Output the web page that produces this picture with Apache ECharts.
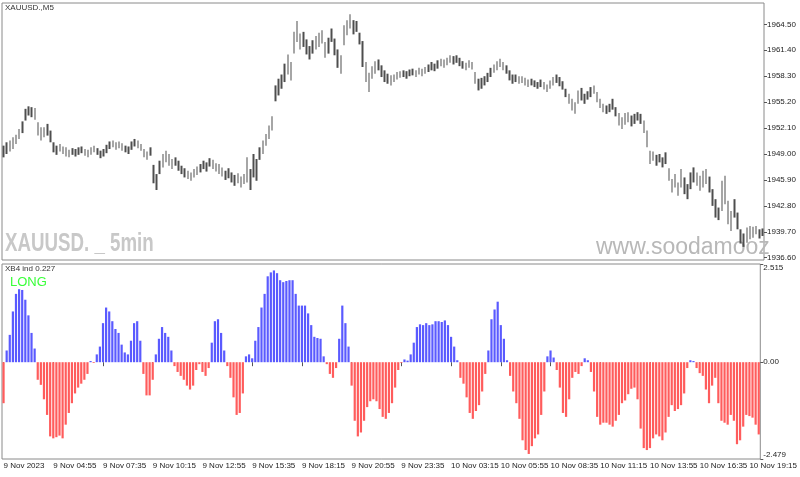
<!DOCTYPE html>
<html lang="en">
<head>
    <meta charset="UTF-8">
    <title>XAUUSD M5</title>
    <script src="https://cdn.jsdelivr.net/npm/echarts@6/dist/echarts.min.js"></script>
    <style>
        html, body { margin: 0; padding: 0; background: #fff; }
        #chart { width: 800px; height: 477px; }
    </style>
</head>
<body>
<div id="chart"></div>
<script>
    // 10-minute steps
    var priceLow = [1948.6,1949.0,1949.3,1949.6,1950.2,1950.8,1951.5,1953.0,1953.6,1953.4,
        1953.1,1951.2,1950.6,1951.0,1951.2,1950.4,1949.2,1948.9,1949.3,1949.0,
        1948.7,1948.6,1948.9,1948.7,1948.9,1949.1,1948.8,1948.6,1948.9,1949.2,
        1948.9,1948.5,1948.7,1949.1,1949.6,1949.8,1949.5,1949.7,1949.4,1949.2,
        1949.0,1949.5,1949.9,1949.7,1949.4,1948.6,1948.3,1948.8,1945.5,1944.7,
        1946.6,1947.4,1948.0,1947.6,1947.2,1947.6,1947.0,1946.6,1946.2,1946.0,
        1945.8,1946.2,1946.5,1946.8,1947.2,1946.9,1947.5,1947.2,1946.9,1946.6,
        1946.3,1945.9,1946.1,1945.6,1945.2,1945.5,1945.0,1945.4,1945.6,1944.7,
        1946.2,1945.8,1948.3,1949.0,1950.0,1950.8,1951.8,1955.3,1956.0,1956.8,
        1957.6,1958.5,1957.8,1961.0,1962.4,1961.5,1961.8,1960.9,1960.3,1961.0,
        1961.5,1961.8,1962.2,1960.5,1961.0,1962.4,1960.8,1959.3,1958.6,1962.0,
        1963.2,1964.0,1963.3,1963.6,1962.1,1959.4,1957.6,1956.4,1958.0,1958.6,
        1959.0,1958.2,1957.6,1957.4,1957.2,1957.6,1957.9,1958.1,1958.2,1958.0,
        1958.3,1958.4,1958.2,1958.5,1958.3,1958.6,1958.8,1959.0,1958.9,1959.2,
        1959.5,1959.3,1959.6,1959.9,1959.7,1959.9,1959.5,1959.2,1959.0,1959.3,
        1959.1,1957.4,1956.6,1956.8,1957.2,1957.6,1958.2,1958.7,1959.0,1959.4,
        1959.0,1958.6,1957.8,1957.4,1957.6,1957.4,1957.5,1957.2,1957.0,1957.2,
        1957.0,1956.8,1957.0,1956.7,1956.4,1956.8,1957.2,1957.5,1957.1,1956.7,
        1955.8,1955.0,1954.2,1953.8,1955.0,1955.4,1955.0,1955.5,1955.8,1956.2,
        1955.2,1954.5,1954.0,1953.8,1954.0,1954.3,1953.5,1952.4,1952.0,1952.5,
        1952.8,1952.3,1952.6,1953.0,1952.6,1951.5,1949.8,1947.8,1948.2,1947.6,
        1948.0,1947.4,1947.8,1945.8,1944.4,1945.0,1944.0,1945.0,1944.2,1943.6,
        1944.8,1945.6,1945.2,1944.6,1945.0,1945.4,1944.4,1942.8,1941.4,1941.1,
        1942.2,1943.0,1940.6,1939.8,1941.4,1940.0,1938.3,1937.9,1938.4,1938.8,
        1939.0,1939.4,1938.9,1939.2];

    var priceHigh = [1950.0,1950.4,1950.6,1951.0,1951.3,1952.0,1952.9,1954.4,1954.7,1954.6,
        1954.5,1952.8,1952.2,1952.2,1952.6,1951.8,1950.4,1950.0,1950.2,1949.9,
        1949.8,1949.5,1949.7,1949.6,1949.8,1949.9,1949.6,1949.5,1949.8,1950.0,
        1949.7,1949.4,1949.6,1950.1,1950.5,1950.6,1950.4,1950.5,1950.3,1950.0,
        1949.9,1950.5,1950.8,1950.6,1950.2,1949.6,1949.3,1949.8,1947.7,1946.6,
        1948.2,1949.0,1949.4,1949.0,1948.4,1948.6,1948.2,1947.6,1947.3,1947.0,
        1946.8,1947.2,1947.5,1947.8,1948.2,1948.0,1948.5,1948.3,1947.9,1947.8,
        1947.4,1947.0,1947.3,1946.8,1946.5,1946.7,1946.3,1946.6,1948.6,1947.2,
        1949.0,1948.4,1949.8,1950.6,1951.4,1952.4,1953.5,1957.2,1958.0,1958.5,
        1959.8,1960.9,1960.0,1963.6,1964.9,1963.4,1963.6,1962.7,1961.9,1962.6,
        1963.1,1963.5,1963.8,1962.4,1962.9,1964.0,1962.8,1961.5,1960.8,1964.4,
        1965.0,1965.7,1965.0,1964.9,1963.5,1962.5,1960.0,1958.7,1959.5,1960.1,
        1960.3,1959.6,1959.0,1958.6,1958.4,1958.5,1958.8,1958.9,1959.0,1958.9,
        1959.1,1959.2,1959.0,1959.3,1959.2,1959.4,1959.7,1960.0,1959.8,1960.2,
        1960.4,1960.3,1960.5,1960.8,1960.7,1960.8,1960.5,1960.1,1959.9,1960.2,
        1960.0,1958.8,1958.0,1958.1,1958.3,1958.7,1959.3,1959.7,1960.1,1960.4,
        1960.0,1959.6,1959.0,1958.5,1958.5,1958.3,1958.3,1958.1,1957.9,1958.0,
        1957.8,1957.6,1957.9,1957.6,1957.3,1957.8,1958.2,1958.5,1958.2,1957.7,
        1956.8,1956.2,1955.6,1955.2,1956.6,1956.9,1956.2,1956.5,1957.0,1957.2,
        1956.4,1955.6,1955.0,1954.8,1955.0,1955.6,1954.6,1953.9,1953.4,1953.9,
        1954.0,1953.6,1953.8,1954.0,1953.8,1953.0,1951.8,1949.4,1949.3,1948.9,
        1949.0,1948.6,1949.2,1947.3,1946.0,1946.6,1945.6,1947.2,1946.2,1945.4,
        1946.8,1947.4,1946.8,1946.4,1947.0,1947.2,1946.3,1944.8,1943.6,1942.6,
        1945.8,1946.4,1943.4,1942.2,1943.6,1942.0,1940.0,1939.5,1940.2,1940.4,
        1940.3,1940.4,1940.0,1940.1];

    var xb4 = [-1.05,0.3,0.7,1.3,1.75,1.87,1.85,1.6,1.2,0.75,
        0.35,-0.45,-0.58,-0.95,-1.35,-1.9,-1.95,-1.92,-1.88,-1.95,
        -1.6,-1.3,-1.05,-0.8,-0.65,-0.55,-0.45,-0.3,0.03,-0.02,
        0.2,0.4,1.0,1.4,1.3,1.05,0.85,0.75,0.45,0.25,
        0.2,0.55,1.0,1.05,0.55,-0.3,-0.85,-0.85,-0.45,0.2,
        0.6,0.9,0.75,0.65,0.3,-0.1,-0.25,-0.35,-0.45,-0.6,
        -0.7,-0.6,-0.2,-0.05,-0.25,-0.35,-0.15,0.5,1.05,1.1,
        0.75,0.3,-0.1,-0.4,-0.9,-1.35,-1.3,-0.8,0.15,0.2,
        0.1,0.55,0.9,1.4,1.75,2.2,2.3,2.35,2.28,2.1,
        2.05,2.08,2.1,2.1,1.75,1.45,1.45,1.45,1.25,0.95,
        0.65,0.62,0.6,0.15,-0.05,-0.3,-0.4,-0.15,0.6,1.45,
        1.0,0.4,-0.6,-1.5,-1.9,-1.8,-1.5,-1.15,-1.0,-0.95,
        -1.0,-1.2,-1.4,-1.45,-1.3,-1.05,-0.65,-0.2,-0.02,0.07,
        0.04,0.2,0.5,0.9,0.97,0.95,1.0,0.95,0.97,1.05,
        1.05,1.03,1.07,0.95,0.65,0.4,0.05,-0.4,-0.55,-0.9,
        -1.3,-1.45,-1.25,-1.1,-0.75,-0.3,0.3,1.1,1.35,1.55,
        0.95,0.6,0.05,-0.35,-0.75,-1.05,-1.45,-2.0,-2.25,-2.35,
        -2.15,-1.95,-1.85,-1.35,-0.75,0.15,0.3,0.12,-0.2,-0.65,
        -1.3,-1.4,-0.95,-0.4,-0.25,-0.3,-0.1,0.1,0.05,-0.25,
        -0.75,-1.4,-1.6,-1.55,-1.55,-1.6,-1.65,-1.5,-1.35,-1.05,
        -0.98,-0.82,-0.68,-0.65,-0.95,-1.7,-2.2,-2.25,-2.2,-1.95,
        -1.85,-1.9,-2.0,-1.8,-1.4,-1.1,-1.25,-1.2,-1.1,-0.8,
        -0.15,0.05,0.03,-0.15,-0.28,-0.35,-0.7,-1.05,-0.6,-0.4,
        -1.05,-1.5,-1.55,-1.6,-1.35,-1.5,-2.1,-2.0,-1.65,-1.35,
        -1.38,-1.42,-1.6,-1.85];

    var timeLabels = ['9 Nov 2023','9 Nov 04:55','9 Nov 07:35','9 Nov 10:15','9 Nov 12:55',
        '9 Nov 15:35','9 Nov 18:15','9 Nov 20:55','9 Nov 23:35','10 Nov 03:15','10 Nov 05:55',
        '10 Nov 08:35','10 Nov 11:15','10 Nov 13:55','10 Nov 16:35','10 Nov 19:15'];
    var priceTicks = [1936.6, 1939.7, 1942.8, 1945.9, 1949.0, 1952.1, 1955.2, 1958.3, 1961.4, 1964.5];
    var xbTicks = [-2.479, 0, 2.515];

    var LABEL_STEP = 16;
    var font = 'Liberation Sans, DejaVu Sans, sans-serif';

    var cats = [];
    var bars = [];
    for (var i = 0; i < priceLow.length; i++) {
        cats.push(i);
        bars.push([priceLow[i], priceHigh[i], priceLow[i], priceHigh[i]]);
    }

    var chart = echarts.init(document.getElementById('chart'), null, {renderer: 'canvas'});

    var option = {
        animation: false,
        backgroundColor: '#fff',
        grid: [
            {left: 2, right: 36, top: 3, height: 257, show: true, borderColor: '#8a8a8a', borderWidth: 1},
            {left: 2, right: 36, top: 264, height: 195, show: true, borderColor: '#8a8a8a', borderWidth: 1}
        ],
        xAxis: [{
            type: 'category', gridIndex: 0, data: cats,
            axisLine: {show: false}, axisTick: {show: false}, axisLabel: {show: false}, splitLine: {show: false}
        }, {
            type: 'category', gridIndex: 1, data: cats,
            axisLine: {show: false},
            axisTick: {show: true, interval: LABEL_STEP - 1, alignWithLabel: true, length: 4, lineStyle: {color: '#555'}},
            axisLabel: {
                interval: LABEL_STEP - 1, align: 'left', margin: 3,
                fontFamily: font, fontSize: 8, color: '#222',
                formatter: function (v, idx) { return timeLabels[idx / LABEL_STEP] || ''; }
            },
            splitLine: {show: false}
        }],
        yAxis: [{
            type: 'value', gridIndex: 0, position: 'right', min: 1936.33, max: 1967.05,
            axisLine: {show: false},
            axisTick: {show: true, customValues: priceTicks, length: 3, lineStyle: {color: '#555'}},
            axisLabel: {
                customValues: priceTicks, margin: 3, fontFamily: font, fontSize: 8, color: '#222',
                formatter: function (v) { return v.toFixed(2); }
            },
            splitLine: {show: false}
        }, {
            type: 'value', gridIndex: 1, position: 'right', min: -2.479, max: 2.515,
            axisLine: {show: false},
            axisTick: {show: true, customValues: xbTicks, length: 3, lineStyle: {color: '#555'}},
            axisLabel: {
                customValues: xbTicks, margin: 3, fontFamily: font, fontSize: 8, color: '#222',
                verticalAlignMaxLabel: 'top', verticalAlignMinLabel: 'bottom',
                formatter: function (v) { return v === 0 ? '0.00' : v.toFixed(3); }
            },
            splitLine: {show: false}
        }],
        series: [{
            name: 'XAUUSD', type: 'candlestick', xAxisIndex: 0, yAxisIndex: 0,
            data: bars, barWidth: 2,
            itemStyle: {color: '#4e4e4e', color0: '#4e4e4e', borderColor: '#4e4e4e', borderColor0: '#4e4e4e', borderWidth: 0}
        }, {
            name: 'XB4', type: 'bar', xAxisIndex: 1, yAxisIndex: 1,
            data: xb4, barWidth: 2.2,
            itemStyle: {
                color: function (p) { return p.value >= 0 ? '#5a5aff' : '#ff5c5c'; }
            }
        }],
        graphic: [
            {type: 'text', x: 5, y: 4, style: {text: 'XAUUSD.,M5', font: '8px ' + font, fill: '#333'}},
            {type: 'text', x: 5, y: 231, scaleX: 0.72, style: {text: 'XAUUSD. _ 5min', font: 'bold 26px ' + font, fill: '#c8c8c8'}},
            {type: 'text', x: 596, y: 236, style: {text: 'www.soodamooz', font: '23px ' + font, fill: '#b8b8b8'}},
            {type: 'text', x: 5, y: 265, style: {text: 'XB4 ind 0.227', font: '8px ' + font, fill: '#333'}},
            {type: 'text', x: 10, y: 276, style: {text: 'LONG', font: '13px ' + font, fill: '#39ff39'}}
        ]
    };

    chart.setOption(option);
</script>
</body>
</html>
